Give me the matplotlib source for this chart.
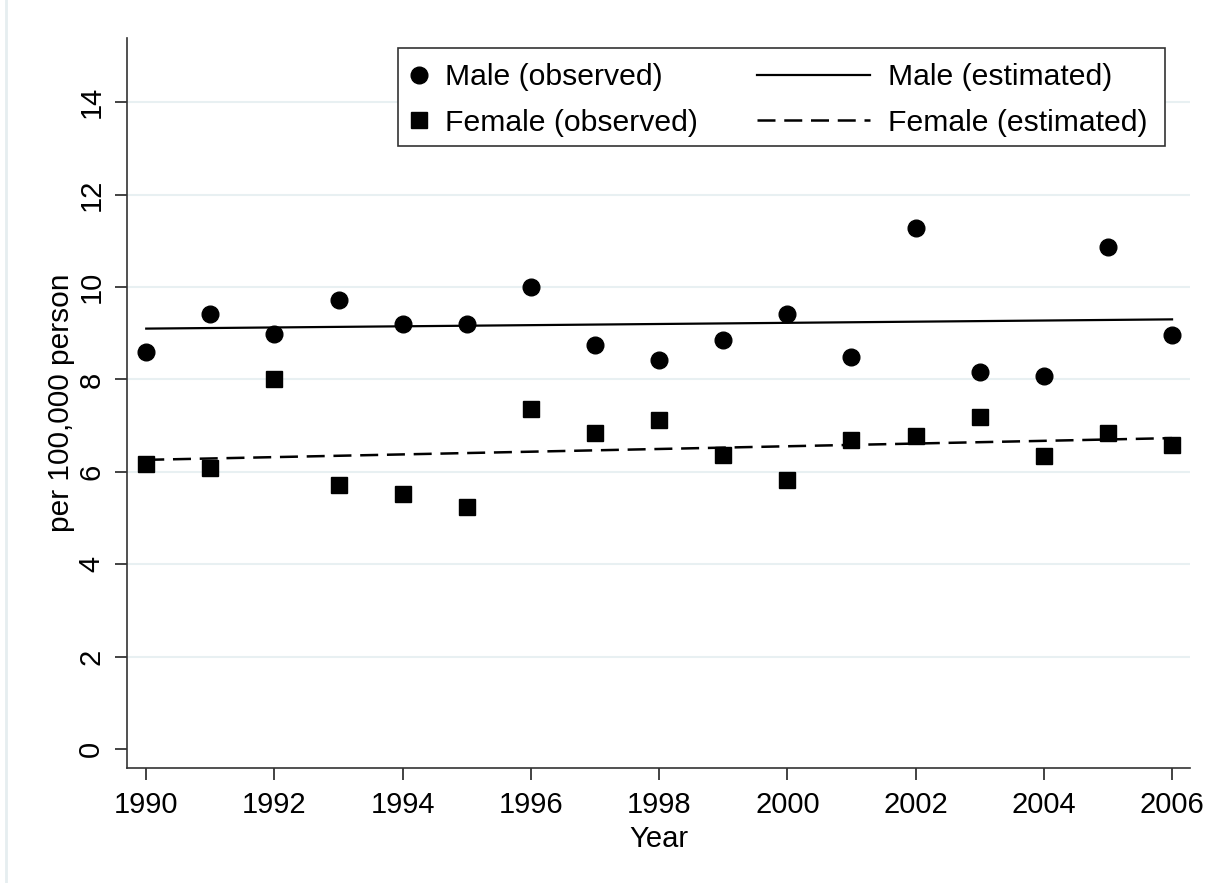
import matplotlib
matplotlib.use('Agg')
import matplotlib.pyplot as plt
from matplotlib.lines import Line2D
from matplotlib.patches import Rectangle

plt.rcParams['font.family'] = ['Liberation Sans', 'DejaVu Sans']

# observed rates per 100,000 persons
years = [1990, 1991, 1992, 1993, 1994, 1995, 1996, 1997, 1998,
         1999, 2000, 2001, 2002, 2003, 2004, 2005, 2006]
male_obs = [8.59, 9.42, 8.98, 9.71, 9.19, 9.19, 10.00, 8.74, 8.43,
            8.86, 9.41, 8.48, 11.28, 8.16, 8.08, 10.87, 8.97]
female_obs = [6.17, 6.09, 8.00, 5.71, 5.52, 5.24, 7.37, 6.84, 7.12,
              6.36, 5.83, 6.68, 6.78, 7.19, 6.35, 6.85, 6.58]

# fitted trend lines (end points)
est_years = [1990, 2006]
male_est = [9.10, 9.30]
female_est = [6.26, 6.73]

yticks = [0, 2, 4, 6, 8, 10, 12, 14]
xticks = [1990, 1992, 1994, 1996, 1998, 2000, 2002, 2004, 2006]

fs = 21
leg_fs = 21.7
dash = (7.2, 3.5)

fig = plt.figure(figsize=(12.2, 8.83), dpi=100)
ax = fig.add_axes([0.1041, 0.1302, 0.8713, 0.8268])

ax.plot(years, male_obs, 'o', color='black', ms=12, zorder=3)
ax.plot(years, female_obs, 's', color='black', ms=11.5, zorder=3)
ax.plot(est_years, male_est, '-', color='black', lw=1.6, zorder=2)
ax.plot(est_years, female_est, color='black', lw=1.8, dashes=dash, zorder=2)

ax.set_xlim(1989.70, 2006.28)
ax.set_ylim(-0.41, 15.39)
ax.set_xticks(xticks)
ax.set_yticks(yticks)
ax.set_yticklabels([str(v) for v in yticks], rotation=90, va='center')
ax.tick_params(axis='both', direction='out', length=8.6, width=1.2,
               labelsize=fs, colors='#222222', labelcolor='black')
ax.tick_params(axis='x', pad=8)
ax.tick_params(axis='y', pad=7)

ax.grid(axis='y', color='#e8f0f2', lw=1.5, zorder=0)
ax.yaxis.get_gridlines()[0].set_visible(False)

for s in ['top', 'right']:
    ax.spines[s].set_visible(False)
for s in ['left', 'bottom']:
    ax.spines[s].set_linewidth(1.2)
    ax.spines[s].set_color('#333333')

ax.set_xlabel('Year', fontsize=fs, labelpad=4.5)
ax.set_ylabel('per 100,000 person', fontsize=fs + 0.5, labelpad=1.5)

# legend: white box with two separate columns
ax.add_patch(Rectangle((0.2549, 0.852), 0.7216, 0.1343, transform=ax.transAxes,
                       facecolor='white', edgecolor='#333333', lw=1.2, zorder=5))

obs_handles = [
    Line2D([], [], marker='o', ls='none', color='black', ms=12),
    Line2D([], [], marker='s', ls='none', color='black', ms=11.5),
]
est_handles = [
    Line2D([], [], color='black', lw=1.6),
    Line2D([], [], color='black', lw=1.8, dashes=dash),
]
leg1 = ax.legend(obs_handles, ['Male (observed)', 'Female (observed)'],
                 loc='center left', bbox_to_anchor=(0.2606, 0.9151),
                 fontsize=leg_fs, frameon=False, handlelength=0.97,
                 handletextpad=0.4, borderpad=0, borderaxespad=0,
                 labelspacing=0.58)
leg1.set_zorder(6)
ax.add_artist(leg1)
leg2 = ax.legend(est_handles, ['Male (estimated)', 'Female (estimated)'],
                 loc='center left', bbox_to_anchor=(0.5927, 0.9151),
                 fontsize=leg_fs, frameon=False, handlelength=3.75,
                 handletextpad=0.6, borderpad=0, borderaxespad=0,
                 labelspacing=0.58)
leg2.set_zorder(6)

# faint frame line at the left edge of the picture
fig.add_artist(Line2D([0.005, 0.005], [0, 1], color='#e6eef0', lw=2))

fig.savefig('out.png', dpi=100, facecolor='white')
